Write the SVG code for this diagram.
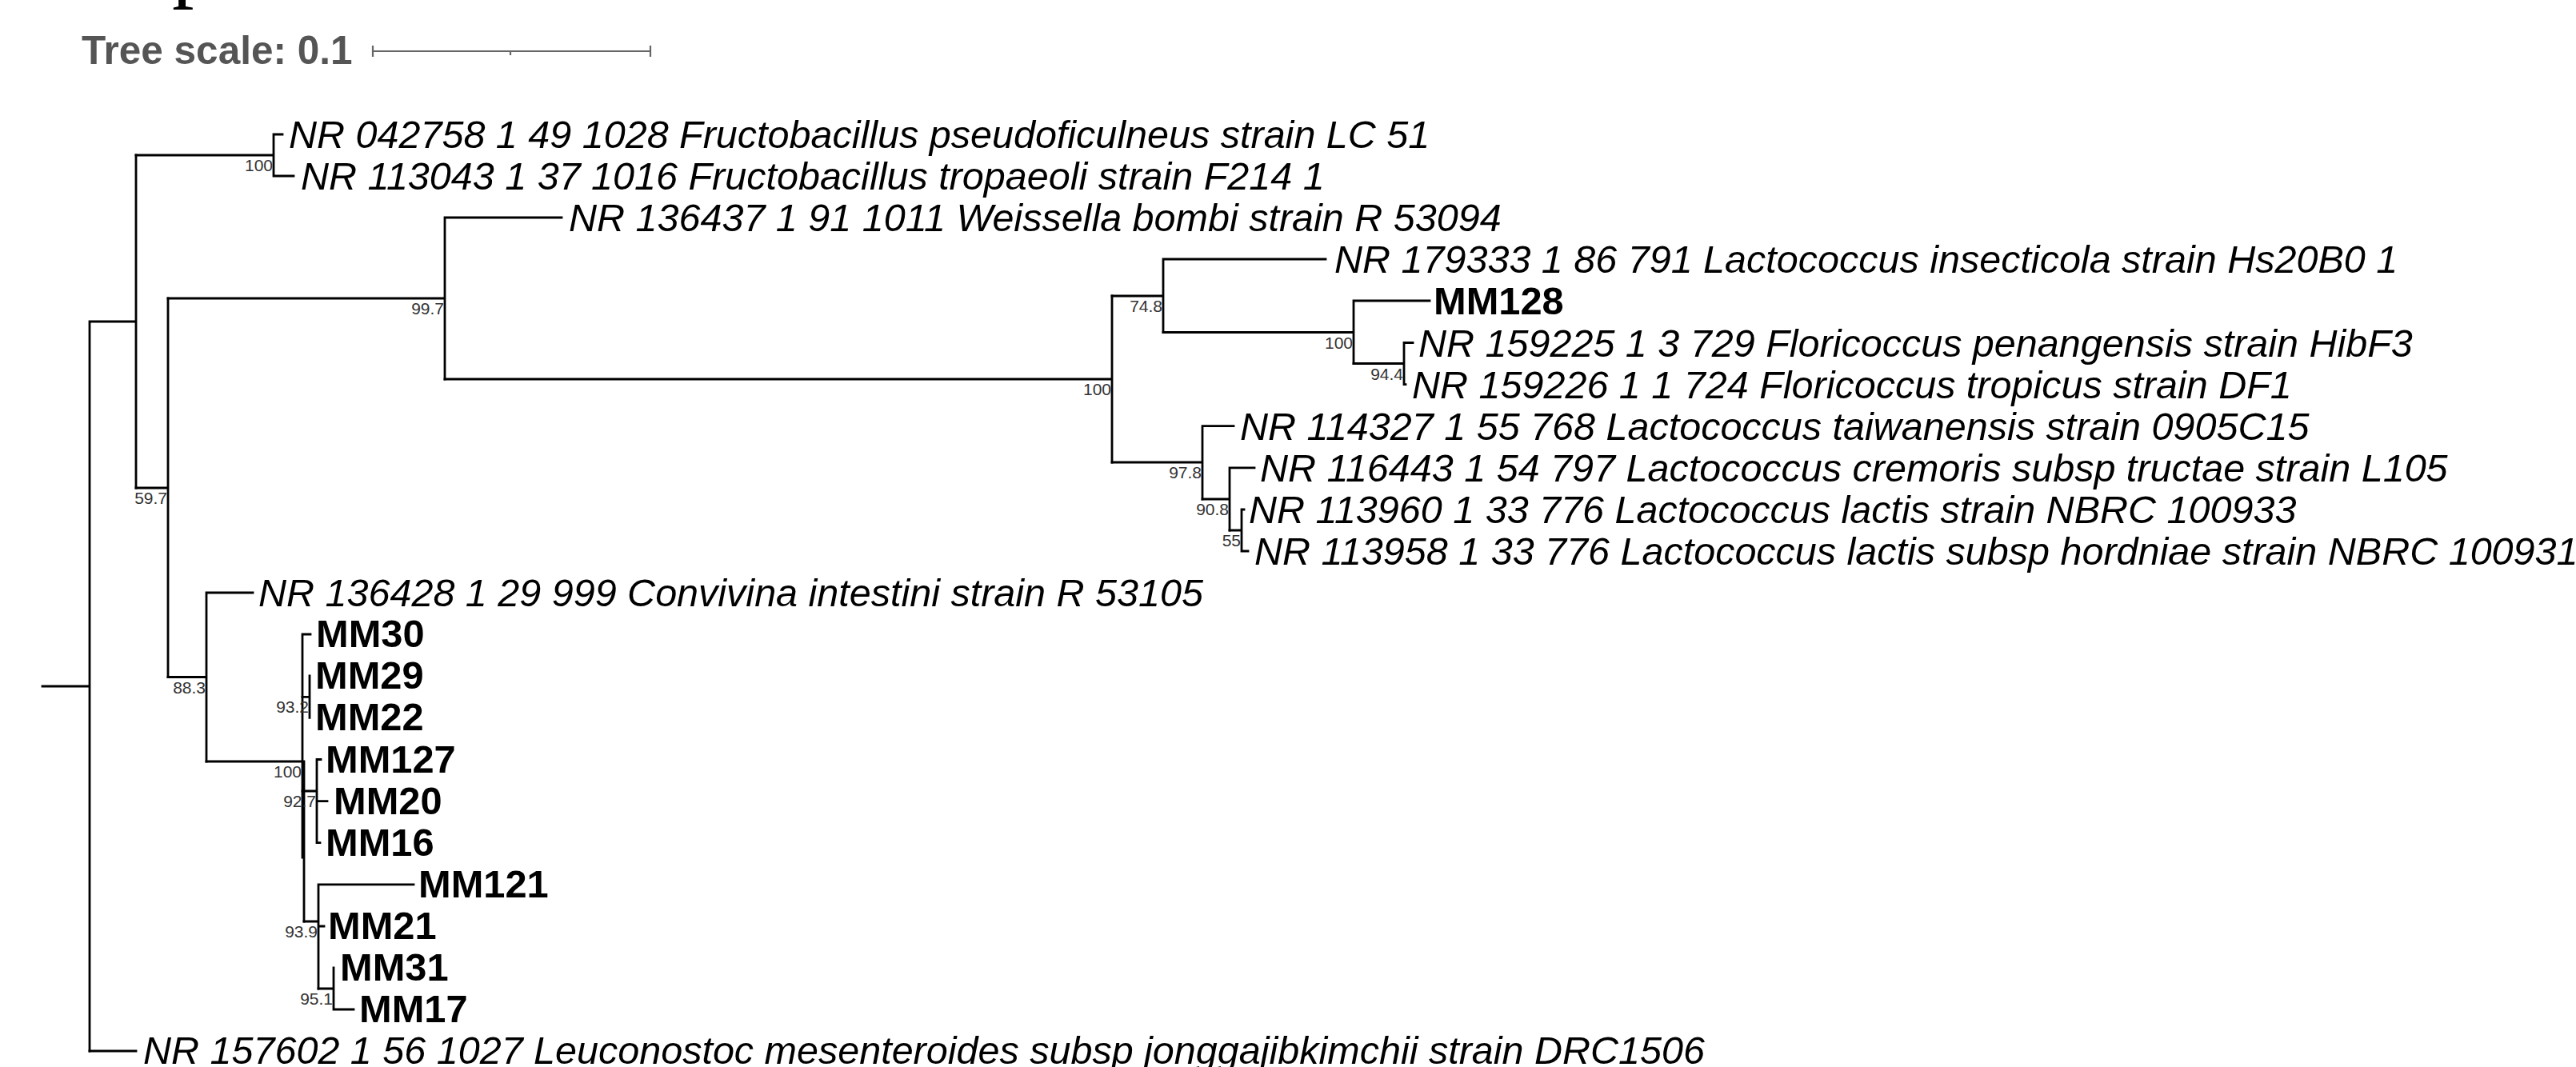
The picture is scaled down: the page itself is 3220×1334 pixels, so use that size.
<svg xmlns="http://www.w3.org/2000/svg" width="3220" height="1334" viewBox="0 0 3220 1334">
<style>
.br{fill:none;stroke:#000;stroke-width:2.8;stroke-linecap:square}
.sb{fill:none;stroke:#666;stroke-width:2.2}
.sp{font-family:"Liberation Sans",Arial,sans-serif;font-size:48.5px;font-style:italic;fill:#000}
.mm{font-family:"Liberation Sans",Arial,sans-serif;font-size:48.8px;font-weight:bold;fill:#000}
.bs{font-family:"Liberation Sans",Arial,sans-serif;font-size:21px;fill:#333;text-anchor:end}
.ts{font-family:"Liberation Sans",Arial,sans-serif;font-size:49.5px;font-weight:bold;fill:#555}
</style>
<rect width="3220" height="1334" fill="#fff"/>
<text x="215" y="-11" font-family="'Liberation Serif',serif" font-size="110" fill="#000">p</text>
<g id="scale">
<text class="ts" x="102" y="80">Tree scale: 0.1</text>
<path class="sb" d="M466,64 H813 M466,57 V71 M813,57 V71 M638,64 V69"/>
</g>
<g id="connectors" class="br">
<path d="M53,858 H112 M112,402 V1314 M112,402 H170 M170,194 V610"/>
<path d="M170,194 H342 M342,168 V220 M342,168 H353 M342,220 H367"/>
<path d="M170,610 H210 M210,373 V846.5"/>
<path d="M210,373 H556 M556,272 V474 M556,272 H702"/>
<path d="M556,474 H1390 M1390,370 V578"/>
<path d="M1390,370 H1454 M1454,324 V415.5 M1454,324 H1657"/>
<path d="M1454,415.5 H1692 M1692,376 V454.5 M1692,376 H1787"/>
<path d="M1692,454.5 H1755 M1755,428.5 V480.6 M1755,428.5 H1766 M1755,480.6 H1757"/>
<path d="M1390,578 H1503 M1503,532.7 V624 M1503,532.7 H1542"/>
<path d="M1503,624 H1537 M1537,584.8 V663 M1537,584.8 H1568"/>
<path d="M1537,663 H1552 M1552,637 V689 M1552,637 H1555 M1552,689 H1560"/>
<path d="M210,846.5 H258 M258,741 V952 M258,741 H316"/>
<path d="M258,952 H378 M378,793 V1072 M380,952 V1152 M378,793 H388"/>
<path d="M378,871.4 H387 M387,845 V897.4"/>
<path d="M378,989 H396 M396,949.5 V1053.7 M396,949.5 H401 M396,1001.6 H409 M396,1053.7 H400"/>
<path d="M380,1152 H398 M398,1105.8 V1236 M398,1105.8 H517 M398,1158 H405"/>
<path d="M398,1236 H417 M417,1210 V1262 M417,1262 H442"/>
<path d="M112,1314 H170"/>
</g>
<g id="support">
<text class="bs" x="341" y="214">100</text>
<text class="bs" x="209" y="630">59.7</text>
<text class="bs" x="555" y="393">99.7</text>
<text class="bs" x="1389" y="494">100</text>
<text class="bs" x="1453" y="390">74.8</text>
<text class="bs" x="1691" y="435.5">100</text>
<text class="bs" x="1754" y="474.5">94.4</text>
<text class="bs" x="1502" y="598">97.8</text>
<text class="bs" x="1536" y="644">90.8</text>
<text class="bs" x="1551" y="683">55</text>
<text class="bs" x="257" y="866.5">88.3</text>
<text class="bs" x="377" y="972">100</text>
<text class="bs" x="386" y="891.4">93.2</text>
<text class="bs" x="395" y="1009">92.7</text>
<text class="bs" x="397" y="1172">93.9</text>
<text class="bs" x="416" y="1256">95.1</text>
</g>
<g id="leaf-NR042758"><text class="sp" x="361" y="185">NR 042758 1 49 1028 Fructobacillus pseudoficulneus strain LC 51</text></g>
<g id="leaf-NR113043"><text class="sp" x="376" y="237">NR 113043 1 37 1016 Fructobacillus tropaeoli strain F214 1</text></g>
<g id="leaf-NR136437"><text class="sp" x="711" y="289">NR 136437 1 91 1011 Weissella bombi strain R 53094</text></g>
<g id="leaf-NR179333"><text class="sp" x="1668" y="341">NR 179333 1 86 791 Lactococcus insecticola strain Hs20B0 1</text></g>
<g id="leaf-MM128"><text class="mm" x="1792" y="393">MM128</text></g>
<g id="leaf-NR159225"><text class="sp" x="1773" y="445.5">NR 159225 1 3 729 Floricoccus penangensis strain HibF3</text></g>
<g id="leaf-NR159226"><text class="sp" x="1765" y="497.6">NR 159226 1 1 724 Floricoccus tropicus strain DF1</text></g>
<g id="leaf-NR114327"><text class="sp" x="1550" y="549.7">NR 114327 1 55 768 Lactococcus taiwanensis strain 0905C15</text></g>
<g id="leaf-NR116443"><text class="sp" x="1575" y="601.8">NR 116443 1 54 797 Lactococcus cremoris subsp tructae strain L105</text></g>
<g id="leaf-NR113960"><text class="sp" x="1561" y="654">NR 113960 1 33 776 Lactococcus lactis strain NBRC 100933</text></g>
<g id="leaf-NR113958"><text class="sp" x="1568" y="706">NR 113958 1 33 776 Lactococcus lactis subsp hordniae strain NBRC 100931</text></g>
<g id="leaf-NR136428"><text class="sp" x="323" y="758">NR 136428 1 29 999 Convivina intestini strain R 53105</text></g>
<g id="leaf-MM30"><text class="mm" x="395" y="809">MM30</text></g>
<g id="leaf-MM29"><text class="mm" x="394" y="861">MM29</text></g>
<g id="leaf-MM22"><text class="mm" x="394" y="913">MM22</text></g>
<g id="leaf-MM127"><text class="mm" x="407" y="966">MM127</text></g>
<g id="leaf-MM20"><text class="mm" x="417" y="1018">MM20</text></g>
<g id="leaf-MM16"><text class="mm" x="407" y="1070">MM16</text></g>
<g id="leaf-MM121"><text class="mm" x="523" y="1122">MM121</text></g>
<g id="leaf-MM21"><text class="mm" x="410" y="1174">MM21</text></g>
<g id="leaf-MM31"><text class="mm" x="425" y="1226">MM31</text></g>
<g id="leaf-MM17"><text class="mm" x="449" y="1278">MM17</text></g>
<g id="leaf-NR157602"><text class="sp" x="179" y="1330">NR 157602 1 56 1027 Leuconostoc mesenteroides subsp jonggajibkimchii strain DRC1506</text></g>
</svg>
